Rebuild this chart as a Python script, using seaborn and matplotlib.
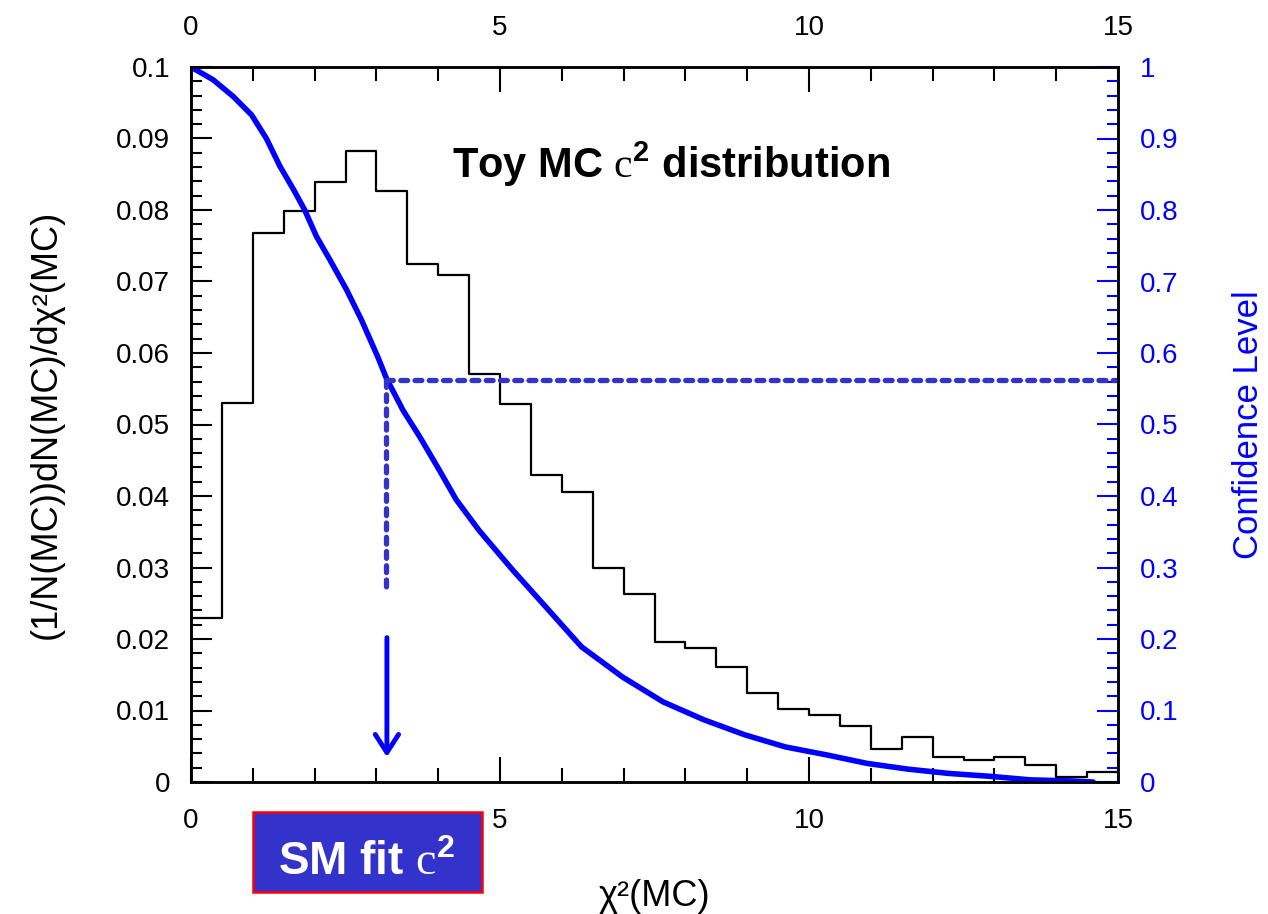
import numpy as np
import pandas as pd
import matplotlib
matplotlib.use("Agg")
import matplotlib.pyplot as plt
from matplotlib.ticker import MultipleLocator, FuncFormatter
from matplotlib.patches import Rectangle
import seaborn as sns

# ---- data ----
bin_edges = [i * 0.5 for i in range(31)]
hist_values = [0.0230, 0.0530, 0.0768, 0.0799, 0.0839, 0.0883, 0.0827, 0.0724,
               0.0709, 0.0571, 0.0528, 0.0430, 0.0405, 0.0299, 0.0263, 0.0196,
               0.0188, 0.0161, 0.0125, 0.0102, 0.0094, 0.0078, 0.0046, 0.0063,
               0.0035, 0.0031, 0.0035, 0.0024, 0.0007, 0.0014]

cl_x = [0.0, 0.36, 0.68, 0.98, 1.22, 1.44, 1.65, 1.84, 2.03, 2.25, 2.52, 2.76,
        3.03, 3.16, 3.43, 3.70, 4.02, 4.29, 4.66, 5.20, 5.74, 6.06, 6.32, 6.98,
        7.64, 8.30, 8.96, 9.62, 10.28, 10.94, 11.60, 12.26, 12.92, 13.58, 14.24,
        14.60]
cl_y = [1.0, 0.982, 0.959, 0.933, 0.900, 0.861, 0.830, 0.800, 0.763, 0.730,
        0.688, 0.646, 0.593, 0.565, 0.520, 0.483, 0.436, 0.395, 0.352, 0.297,
        0.245, 0.214, 0.189, 0.147, 0.112, 0.087, 0.066, 0.049, 0.038, 0.026,
        0.018, 0.012, 0.008, 0.003, 0.0015, 0.0]

sm_fit_chi2 = 3.15
sm_fit_cl = 0.562
dotted_bottom = 0.271
arrow_start = 0.202
arrow_end = 0.035

x_ticks = [0, 5, 10, 15]

sns.set_style("ticks")
plt.rcParams["font.family"] = ["Liberation Sans", "DejaVu Sans"]
plt.rcParams["mathtext.fontset"] = "custom"
plt.rcParams["mathtext.rm"] = "Liberation Serif"
plt.rcParams["mathtext.bf"] = "Liberation Sans:bold"
plt.rcParams["text.color"] = "black"
plt.rcParams["axes.labelcolor"] = "black"
plt.rcParams["axes.edgecolor"] = "black"

W, H = 1268, 914
fig = plt.figure(figsize=(W / 100, H / 100), dpi=100)
ax = fig.add_axes([191 / W, 1 - 782 / H, (1118 - 191) / W, (782 - 67) / H])

hist_df = pd.DataFrame({"chi2": [e + 0.25 for e in bin_edges[:-1]], "w": hist_values})
sns.histplot(data=hist_df, x="chi2", weights="w", bins=bin_edges, element="step",
             fill=False, color="black", linewidth=1.6, ax=ax)

ax.set_xlim(0, 15)
ax.set_ylim(0, 0.1)
ax.xaxis.set_major_locator(MultipleLocator(5))
ax.xaxis.set_minor_locator(MultipleLocator(1))
ax.yaxis.set_major_locator(MultipleLocator(0.01))
ax.yaxis.set_minor_locator(MultipleLocator(0.002))
ax.yaxis.set_major_formatter(FuncFormatter(lambda v, p: "%g" % round(v, 4)))
ax.tick_params(axis="both", which="both", direction="in", top=True, labeltop=True,
               right=False, labelsize=20, width=1.5, colors="black")
ax.tick_params(axis="y", which="major", length=15, pad=15)
ax.tick_params(axis="y", which="minor", length=8)
ax.tick_params(axis="x", which="major", length=18, pad=19)
ax.tick_params(axis="x", which="minor", length=10)
ax.set_xticks(x_ticks)
for s in ax.spines.values():
    s.set_linewidth(1.8)
    s.set_color("black")
ax.set_xlabel("χ²(MC)", fontsize=26, labelpad=32, color="black")
ax.set_ylabel("(1/N(MC))dN(MC)/dχ²(MC)", fontsize=26, labelpad=38, color="black")

ax2 = ax.twinx()
cl_df = pd.DataFrame({"x": cl_x, "cl": cl_y})
sns.lineplot(data=cl_df, x="x", y="cl", color="#0000FF", linewidth=4, ax=ax2)
ax2.set_ylim(0, 1)
ax2.set_xlim(0, 15)
ax2.yaxis.set_major_locator(MultipleLocator(0.1))
ax2.yaxis.set_minor_locator(MultipleLocator(0.02))
ax2.yaxis.set_major_formatter(FuncFormatter(lambda v, p: "%g" % round(v, 3)))
ax2.tick_params(axis="y", which="both", direction="in", colors="#0000FF",
                labelsize=20, width=1.5)
ax2.tick_params(axis="y", which="major", length=15, pad=16)
ax2.tick_params(axis="y", which="minor", length=8)
ax2.set_ylabel("Confidence Level", color="#0000FF", fontsize=25, labelpad=38)
for s in ax2.spines.values():
    s.set_linewidth(1.8)
    s.set_color("black")

dot_color = "#3333CC"
ax2.plot([sm_fit_chi2, 15], [sm_fit_cl, sm_fit_cl], color=dot_color, linewidth=3.8,
         linestyle=(0, (1.3, 1.4)), dash_capstyle="round")
ax2.plot([sm_fit_chi2, sm_fit_chi2], [sm_fit_cl, dotted_bottom], color=dot_color,
         linewidth=3.8, linestyle=(0, (1.3, 1.4)), dash_capstyle="round")
ax2.annotate("", xy=(sm_fit_chi2 + 0.02, arrow_end), xytext=(sm_fit_chi2 + 0.02, arrow_start),
             arrowprops=dict(arrowstyle="->,head_length=0.65,head_width=0.42",
                             mutation_scale=20, color="#0000FF", linewidth=3.5,
                             shrinkA=0, shrinkB=0))

ax.text((452 - 191) / 927, (782 - 178) / 715,
        r"Toy MC $\mathrm{c}^{\mathbf{2}}$ distribution", transform=ax.transAxes,
        fontsize=30, fontweight="bold", color="black", ha="left", va="baseline")

fig.patches.append(Rectangle((253 / W, 1 - 892 / H), 229 / W, 80 / H,
                             transform=fig.transFigure, facecolor="#3333CC",
                             edgecolor="red", linewidth=1.8, zorder=5))
fig.text(367 / W, 1 - 875 / H, r"SM fit $\mathrm{c}^{\mathbf{2}}$", fontsize=33,
         fontweight="bold", color="white", ha="center", va="baseline", zorder=6)

fig.savefig("out.png", dpi=100)
